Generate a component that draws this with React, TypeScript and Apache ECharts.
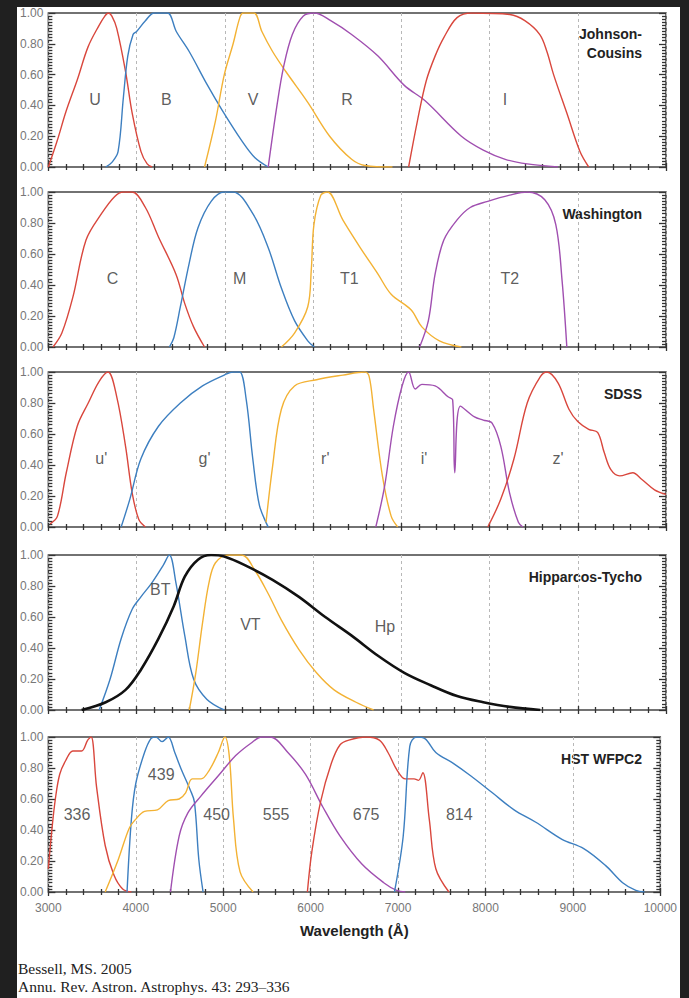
import React, { useEffect, useRef } from 'react';
import * as echarts from 'echarts';

// ---------- colours ----------
const RED = '#d9473d';
const BLUE = '#3d7fc0';
const YELLOW = '#f3b234';
const PURPLE = '#a04fb0';
const BLACK = '#111111';

// ---------- axis ----------
const X_MIN = 3000;
const X_MAX = 10000;
const X_STEP = 1000;

// ---------- Johnson-Cousins ----------
const jcU = [[3000,0],[3100,0.17],[3200,0.36],[3330,0.57],[3450,0.78],[3575,0.92],[3640,0.98],[3680,1.0],[3720,0.98],[3775,0.9],[3875,0.62],[3950,0.35],[4050,0.1],[4120,0.02],[4175,0]];
const jcB = [[3650,0],[3720,0.03],[3790,0.1],[3850,0.45],[3900,0.72],[3960,0.86],[4000,0.88],[4100,0.95],[4200,1.0],[4350,1.0],[4450,0.88],[4596,0.75],[4795,0.54],[4969,0.37],[5193,0.17],[5342,0.06],[5492,0]];
const jcV = [[4770,0],[4894,0.3],[4994,0.6],[5094,0.8],[5170,0.97],[5210,1.0],[5330,1.0],[5420,0.88],[5541,0.75],[5691,0.62],[5940,0.42],[6188,0.2],[6437,0.05],[6587,0.01],[6900,0]];
const jcR = [[5492,0],[5591,0.4],[5666,0.65],[5765,0.86],[5890,0.98],[6014,1.0],[6200,0.95],[6437,0.86],[6736,0.72],[7034,0.53],[7270,0.43],[7681,0.2],[7929,0.11],[8178,0.05],[8427,0.02],[8775,0]];
const jcI = [[7083,0],[7183,0.3],[7283,0.56],[7383,0.72],[7482,0.84],[7632,0.97],[7800,1.0],[8230,0.99],[8400,0.95],[8570,0.86],[8650,0.75],[8726,0.6],[8876,0.35],[9025,0.1],[9124,0]];
const jcNames = ['U', 'B', 'V', 'R', 'I'];
const jcLabelX = [3530, 4336, 5321, 6386, 8175];
const jcLabelY = [0.44, 0.44, 0.44, 0.44, 0.44];

// ---------- Washington ----------
const waC = [[3053,0],[3153,0.09],[3277,0.32],[3427,0.69],[3602,0.86],[3750,0.97],[3850,1.0],[3950,1.0],[4100,0.9],[4248,0.71],[4446,0.47],[4546,0.28],[4646,0.13],[4770,0]];
const waM = [[4372,0],[4422,0.06],[4496,0.26],[4596,0.54],[4696,0.77],[4845,0.94],[4993,1.0],[5094,1.0],[5317,0.86],[5492,0.64],[5641,0.38],[5790,0.17],[5940,0.04],[6014,0]];
const waT1 = [[5641,0],[5790,0.09],[5940,0.26],[5980,0.5],[6010,0.79],[6089,0.98],[6163,1.0],[6337,0.82],[6536,0.64],[6736,0.47],[6885,0.34],[7110,0.24],[7233,0.13],[7432,0.04],[7681,0]];
const waT2 = [[7208,0],[7307,0.17],[7383,0.47],[7482,0.69],[7632,0.82],[7781,0.9],[7980,0.94],[8229,0.98],[8427,1.0],[8626,0.95],[8751,0.79],[8822,0.43],[8876,0]];
const waNames = ['C', 'M', 'T1', 'T2'];
const waLabelX = [3727, 5168, 6412, 8229];
const waLabelY = [0.44, 0.44, 0.44, 0.44];

// ---------- SDSS ----------
const sdU = [[3020,0.02],[3103,0.07],[3203,0.35],[3327,0.65],[3452,0.8],[3576,0.94],[3676,1.0],[3775,0.84],[3875,0.52],[3950,0.22],[4024,0.05],[4100,0]];
const sdG = [[3825,0],[3924,0.18],[4049,0.44],[4248,0.65],[4496,0.8],[4747,0.91],[4993,0.98],[5094,1.0],[5168,1.0],[5243,0.82],[5317,0.44],[5392,0.14],[5492,0]];
const sdR = [[5467,0.03],[5541,0.39],[5641,0.76],[5790,0.91],[6040,0.95],[6337,0.98],[6587,1.0],[6636,0.97],[6686,0.76],[6786,0.33],[6885,0.07],[6959,0]];
const sdI = [[6711,0],[6810,0.26],[6910,0.65],[7009,0.91],[7083,1.0],[7158,0.89],[7233,0.92],[7383,0.91],[7530,0.84],[7582,0.82],[7606,0.35],[7670,0.78],[7830,0.71],[7929,0.69],[8029,0.67],[8128,0.52],[8227,0.22],[8327,0.03],[8377,0]];
const sdZ = [[7980,0],[8128,0.18],[8277,0.44],[8427,0.8],[8576,0.97],[8652,1.0],[8776,0.93],[8900,0.76],[9000,0.68],[9124,0.63],[9225,0.61],[9300,0.48],[9375,0.37],[9475,0.33],[9624,0.35],[9720,0.31],[9870,0.24],[10000,0.21]];
const sdNames = ["u'", "g'", "r'", "i'", "z'"];
const sdLabelX = [3600, 4770, 6138, 7258, 8776];
const sdLabelY = [0.44, 0.44, 0.44, 0.44, 0.44];

// ---------- Hipparcos-Tycho ----------
const htBT = [[3576,0],[3700,0.2],[3825,0.46],[3950,0.65],[4049,0.73],[4173,0.82],[4298,0.93],[4371,1.0],[4446,0.82],[4546,0.48],[4646,0.2],[4795,0.07],[4993,0]];
const htVT = [[4597,0],[4671,0.24],[4747,0.56],[4820,0.82],[4894,0.95],[5044,1.0],[5193,1.0],[5342,0.9],[5492,0.75],[5641,0.58],[5840,0.39],[6039,0.24],[6238,0.13],[6487,0.05],[6686,0]];
const htHp = [[3377,0],[3650,0.05],[3875,0.13],[4049,0.26],[4248,0.46],[4421,0.67],[4546,0.86],[4695,0.97],[4844,1.0],[4993,0.99],[5243,0.93],[5541,0.84],[5840,0.73],[6138,0.6],[6437,0.48],[6736,0.35],[7034,0.24],[7333,0.16],[7632,0.09],[7929,0.05],[8228,0.02],[8575,0]];
const htNames = ['BT', 'VT', 'Hp'];
const htLabelX = [4268, 5290, 6815];
const htLabelY = [0.78, 0.55, 0.54];

// ---------- HST WFPC2 ----------
const hs336 = [[3000,0.15],[3040,0.4],[3080,0.6],[3130,0.76],[3200,0.85],[3280,0.91],[3380,0.91],[3450,0.98],[3490,1.0],[3551,0.68],[3650,0.3],[3750,0.11],[3850,0.02],[3950,0]];
const hs439 = [[3900,0],[3950,0.47],[4000,0.7],[4100,0.9],[4173,0.99],[4230,1.0],[4300,0.97],[4371,1.0],[4446,0.9],[4521,0.79],[4622,0.66],[4671,0.58],[4721,0.21],[4770,0]];
const hs450 = [[3650,0],[3800,0.21],[3924,0.41],[4000,0.47],[4100,0.52],[4248,0.53],[4371,0.59],[4496,0.6],[4570,0.64],[4646,0.73],[4747,0.73],[4845,0.79],[4944,0.9],[5019,1.0],[5069,0.88],[5118,0.47],[5193,0.13],[5342,0]];
const hs555 = [[4397,0],[4496,0.36],[4596,0.51],[4747,0.62],[4944,0.75],[5143,0.88],[5317,0.96],[5442,1.0],[5541,1.0],[5740,0.9],[5940,0.76],[6138,0.55],[6337,0.36],[6586,0.18],[6836,0.06],[6985,0.01],[7083,0]];
const hs675 = [[5963,0],[6014,0.26],[6113,0.58],[6237,0.83],[6337,0.95],[6437,0.98],[6637,1.0],[6786,0.98],[6885,0.9],[6985,0.79],[7083,0.73],[7183,0.73],[7233,0.72],[7283,0.77],[7357,0.47],[7432,0.15],[7582,0]];
const hs814 = [[6959,0],[7059,0.36],[7134,0.94],[7208,1.0],[7307,0.99],[7432,0.9],[7632,0.83],[7830,0.75],[8079,0.64],[8327,0.53],[8576,0.45],[8875,0.34],[9124,0.28],[9375,0.17],[9569,0.06],[9720,0.01],[9820,0]];
const hsNames = ['336', '439', '450', '555', '675', '814'];
const hsLabelX = [3328, 4291, 4925, 5605, 6635, 7700];
const hsLabelY = [0.5, 0.76, 0.5, 0.5, 0.5, 0.5];

const panels = [
  { title: 'Johnson-\nCousins', curves: [[jcU, RED], [jcB, BLUE], [jcV, YELLOW], [jcR, PURPLE], [jcI, RED]], names: jcNames, lx: jcLabelX, ly: jcLabelY },
  { title: 'Washington', curves: [[waC, RED], [waM, BLUE], [waT1, YELLOW], [waT2, PURPLE]], names: waNames, lx: waLabelX, ly: waLabelY },
  { title: 'SDSS', curves: [[sdU, RED], [sdG, BLUE], [sdR, YELLOW], [sdI, PURPLE], [sdZ, RED]], names: sdNames, lx: sdLabelX, ly: sdLabelY },
  { title: 'Hipparcos-Tycho', curves: [[htBT, BLUE], [htVT, YELLOW], [htHp, BLACK]], names: htNames, lx: htLabelX, ly: htLabelY },
  { title: 'HST WFPC2', curves: [[hs336, RED], [hs439, BLUE], [hs450, YELLOW], [hs555, PURPLE], [hs675, RED], [hs814, BLUE]], names: hsNames, lx: hsLabelX, ly: hsLabelY },
];

const PANEL_TOPS = [5, 185, 365, 548, 730];
const PANEL_H = 155;
const GRID_LEFT = 31;
const GRID_RIGHT = 14;
const CHART_W = 663;
const FONT = '"Liberation Sans", Arial, Helvetica, sans-serif';
const SERIF = '"Liberation Serif", "Times New Roman", serif';
const FRAME = '#444';

function buildOption() {
  const grid: any[] = [];
  const xAxis: any[] = [];
  const yAxis: any[] = [];
  const series: any[] = [];
  const graphic: any[] = [];
  const last = panels.length - 1;

  panels.forEach((p, i) => {
    grid.push({
      left: GRID_LEFT, right: GRID_RIGHT, top: PANEL_TOPS[i], height: PANEL_H,
      show: true, borderColor: FRAME, borderWidth: 1.5, backgroundColor: 'transparent',
    });
    const xBase = {
      type: 'value', gridIndex: i, min: X_MIN, max: X_MAX, interval: X_STEP,
      axisLine: { show: false },
      axisTick: { show: true, inside: true, length: 4, lineStyle: { color: '#333', width: 1.3 } },
      minorTick: { show: true, splitNumber: 5, length: 3, lineStyle: { color: '#333', width: 1.3 } },
    };
    xAxis.push({
      ...xBase, position: 'bottom',
      axisLabel: {
        show: i === last, fontSize: 12, color: '#777', margin: 10, fontFamily: FONT,
        formatter: (v: number) => String(v),
      },
      splitLine: { show: true, lineStyle: { color: '#b8b8b8', type: [3, 3], width: 1 } },
      name: i === last ? 'Wavelength (Å)' : '',
      nameLocation: 'middle', nameGap: 31,
      nameTextStyle: { fontSize: 15, fontWeight: 'bold', color: '#222', fontFamily: FONT },
    });
    xAxis.push({
      ...xBase, position: 'top',
      axisLabel: { show: false }, splitLine: { show: false },
    });
    const yBase = {
      type: 'value', gridIndex: i, min: 0, max: 1, interval: 0.2,
      axisLine: { show: false },
      axisTick: { show: true, inside: true, length: 7, lineStyle: { color: '#333', width: 1.3 } },
      minorTick: { show: true, splitNumber: 10, length: 4, lineStyle: { color: '#333', width: 1.3 } },
      splitLine: { show: false },
    };
    yAxis.push({
      ...yBase, position: 'left',
      axisLabel: {
        show: true, fontSize: 12, color: '#777', margin: 5, fontFamily: FONT,
        formatter: (v: number) => v.toFixed(2),
      },
    });
    yAxis.push({ ...yBase, position: 'right', axisLabel: { show: false } });

    p.curves.forEach(([data, color]: any) => {
      series.push({
        type: 'line', xAxisIndex: 2 * i, yAxisIndex: 2 * i, data,
        showSymbol: false, smooth: 0.35, silent: true,
        lineStyle: { color, width: color === BLACK ? 2.6 : 1.4 },
        itemStyle: { color },
      });
    });

    series.push({
      type: 'scatter', xAxisIndex: 2 * i, yAxisIndex: 2 * i, silent: true,
      symbolSize: 1, itemStyle: { color: 'rgba(0,0,0,0)' },
      data: p.names.map((n: string, k: number) => ({ name: n, value: [p.lx[k], p.ly[k]] })),
      label: {
        show: true, position: 'inside', formatter: '{b}',
        fontSize: 16, color: '#333', fontFamily: FONT,
      },
      z: 5,
    });

    graphic.push({
      type: 'text', x: CHART_W - 38, y: PANEL_TOPS[i] + 12, silent: true,
      style: {
        text: p.title, align: 'right', verticalAlign: 'top',
        font: 'bold 14px ' + FONT, lineHeight: 19, fill: '#222',
      },
    });
  });

  graphic.push(
    { type: 'text', x: 1, y: 961, silent: true, style: { text: 'Bessell, MS. 2005', font: '15.5px ' + SERIF, fill: '#222', verticalAlign: 'middle' } },
    { type: 'text', x: 1, y: 979, silent: true, style: { text: 'Annu. Rev. Astron. Astrophys. 43: 293–336', font: '15.5px ' + SERIF, fill: '#222', verticalAlign: 'middle' } },
  );

  return {
    animation: false,
    backgroundColor: '#ffffff',
    textStyle: { fontFamily: FONT },
    grid, xAxis, yAxis, series, graphic,
  };
}

export default function App() {
  const ref = useRef<HTMLDivElement>(null);
  useEffect(() => {
    if (!ref.current) return;
    const chart = echarts.init(ref.current, undefined, { renderer: 'svg' });
    chart.setOption(buildOption() as any);
    return () => chart.dispose();
  }, []);
  return (
    <div style={{ position: 'fixed', left: 0, top: 0, width: 689, height: 998, background: '#202020', overflow: 'hidden' }}>
      <div ref={ref} style={{ position: 'absolute', left: 17, top: 7, width: 663, height: 991, background: '#ffffff' }} />
    </div>
  );
}
